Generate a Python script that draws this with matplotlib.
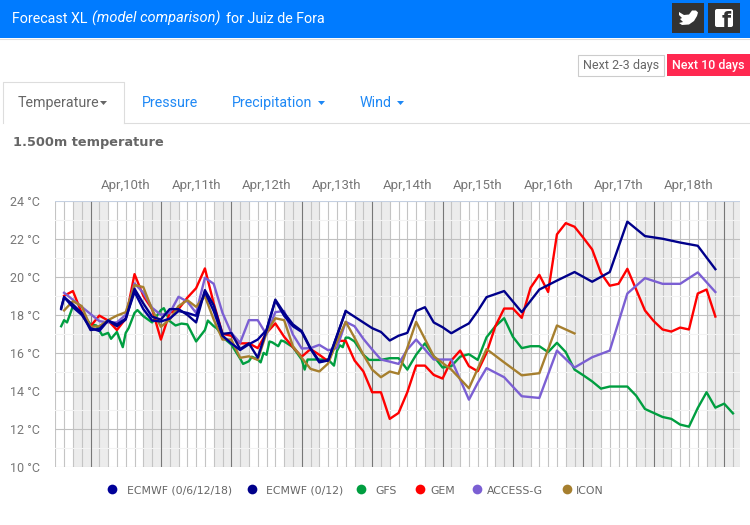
# -*- coding: utf-8 -*-
'''
Forecast XL model comparison chart for Juiz de Fora
'''

# %% =================== libraries =============================================

import matplotlib
matplotlib.use('Agg')
import matplotlib.pyplot as plt
from matplotlib.patches import Rectangle, FancyBboxPatch, Polygon

# %% =================== data ==================================================

# hours counted from Apr 10th 00:00
ecmwf_all_h = [-10, -9, -6, -3, 0, 3, 6, 9, 12, 15, 18, 21, 24, 27, 30, 33, 36, 39, 42, 45, 48, 51, 54, 57, 60, 63, 66, 69, 72, 75, 78, 81, 84, 87]
ecmwf_all_t = [18.3, 18.93, 18.4, 18.0, 17.3, 17.15, 17.7, 17.5, 17.8, 19.2, 18.3, 17.7, 17.65, 17.8, 18.2, 18.1, 17.95, 19.2, 18.2, 16.9, 16.5, 16.15, 16.45, 16.7, 17.2, 18.75, 17.95, 17.4, 17.1, 16.2, 15.5, 15.6, 16.9, 18.2]

ecmwf_012_h = [-10, -9, -6, -3, 0, 3, 6, 9, 12, 15, 18, 21, 24, 27, 30, 33, 36, 39, 42, 45, 48, 51, 54, 57, 60, 63, 66, 69, 72, 75, 78, 81, 84, 87, 90, 93, 96, 99, 102, 105, 108, 111, 114, 117, 120, 123, 126, 129, 132, 135, 141, 147, 153, 159, 165, 171, 177, 183, 189, 195, 201, 207, 213]
ecmwf_012_t = [18.37, 18.93, 18.54, 18.1, 17.2, 17.26, 17.7, 17.4, 17.75, 19.37, 18.6, 17.9, 17.75, 18.3, 18.3, 18.0, 17.6, 19.3, 18.5, 17.0, 17.05, 16.2, 16.5, 15.75, 17.2, 18.8, 18.1, 17.5, 17.15, 16.25, 15.56, 15.6, 16.9, 18.2, 17.9, 17.6, 17.3, 17.1, 16.65, 16.9, 17.05, 18.2, 18.4, 17.6, 17.35, 17.03, 17.3, 17.55, 18.2, 18.93, 19.25, 18.14, 19.33, 19.8, 20.25, 19.74, 20.25, 22.9, 22.14, 22.0, 21.8, 21.63, 20.4]

gfs_h = [-10, -9, -8, -6, -3, 0, 2, 4, 6, 7, 9, 11, 12, 13, 15, 16, 18, 21, 24, 25, 27, 29, 31, 33, 34, 36, 39, 40, 42, 43, 46, 48, 51, 52, 54, 55, 57, 58, 59, 60, 61, 62, 64, 65, 66, 69, 72, 73, 74, 78, 81, 83, 84, 85, 86, 87, 88, 90, 93, 95, 99, 102, 105, 108, 111, 114, 117, 120, 123, 126, 129, 132, 135, 138, 141, 144, 147, 150, 153, 156, 159, 162, 165, 168, 171, 174, 177, 183, 186, 189, 192, 195, 198, 201, 204, 207, 210, 213, 216, 219]
gfs_t = [17.4, 17.72, 17.6, 18.45, 18.1, 17.5, 17.44, 16.93, 17.05, 16.74, 17.1, 16.3, 17.05, 17.3, 18.1, 18.25, 17.93, 17.6, 18.25, 18.35, 17.67, 17.44, 17.54, 17.5, 17.2, 16.6, 17.2, 17.7, 17.4, 17.3, 16.7, 16.44, 15.7, 15.42, 15.56, 15.8, 15.65, 15.5, 16.0, 15.9, 16.6, 16.55, 16.35, 16.65, 16.6, 16.3, 15.65, 15.12, 15.65, 15.65, 15.65, 15.33, 16.1, 16.4, 16.3, 16.8, 16.8, 16.6, 15.9, 15.63, 15.63, 15.72, 15.72, 15.12, 15.9, 16.5, 15.82, 15.23, 15.3, 15.8, 15.93, 15.63, 16.82, 17.4, 17.82, 16.84, 16.25, 16.35, 16.35, 16.04, 16.53, 16.04, 15.12, 14.82, 14.5, 14.12, 14.23, 14.23, 13.75, 13.05, 12.84, 12.63, 12.53, 12.23, 12.12, 13.1, 13.93, 13.12, 13.33, 12.82]

gem_h = [-9, -6, -3, 0, 3, 6, 9, 12, 15, 18, 21, 24, 27, 30, 33, 36, 39, 42, 45, 48, 51, 54, 57, 60, 63, 66, 69, 72, 75, 78, 81, 84, 87, 90, 93, 96, 99, 102, 105, 108, 111, 114, 117, 120, 123, 126, 129, 132, 135, 138, 141, 144, 147, 150, 153, 156, 159, 162, 165, 168, 171, 174, 177, 180, 183, 186, 189, 192, 195, 198, 201, 204, 207, 210, 213]
gem_t = [19.0, 19.25, 18.1, 17.4, 17.96, 17.7, 17.2, 17.8, 20.14, 19.0, 18.3, 16.7, 18.1, 18.3, 18.9, 19.4, 20.44, 18.6, 17.0, 16.9, 16.5, 16.5, 16.25, 17.05, 17.55, 16.85, 16.3, 15.8, 16.2, 15.9, 15.56, 16.63, 16.63, 15.6, 15.03, 13.93, 13.93, 12.53, 12.84, 13.93, 15.33, 15.33, 14.84, 14.65, 15.6, 16.12, 15.3, 15.03, 16.0, 17.4, 18.33, 18.33, 17.84, 19.42, 20.1, 19.2, 22.23, 22.82, 22.63, 22.05, 21.44, 20.2, 19.53, 19.63, 20.42, 19.33, 18.23, 17.67, 17.23, 17.12, 17.33, 17.23, 19.12, 19.33, 17.91]

access_h = [-9, -3, 3, 6, 9, 12, 15, 18, 21, 24, 27, 30, 33, 36, 39, 42, 45, 48, 51, 54, 57, 60, 63, 66, 69, 72, 75, 78, 81, 84, 87, 90, 93, 96, 99, 102, 105, 108, 111, 114, 117, 123, 126, 129, 132, 135, 141, 147, 153, 159, 165, 171, 177, 183, 189, 195, 201, 207, 213]
access_t = [19.16, 18.42, 17.67, 17.6, 17.6, 18.0, 19.65, 19.16, 18.37, 18.0, 18.1, 18.95, 18.7, 18.1, 19.95, 19.63, 18.1, 17.05, 16.53, 17.72, 17.72, 16.96, 18.14, 18.2, 16.96, 16.23, 16.25, 16.42, 16.14, 16.25, 17.63, 17.4, 16.74, 16.18, 15.65, 15.54, 15.42, 16.18, 16.7, 16.18, 15.65, 15.65, 14.6, 13.54, 14.42, 15.2, 14.72, 13.72, 13.63, 16.12, 15.23, 15.77, 16.12, 19.12, 19.93, 19.63, 19.63, 20.23, 19.2]

icon_h = [-9, -6, -3, 0, 3, 6, 9, 12, 15, 18, 21, 24, 27, 30, 33, 36, 39, 42, 45, 48, 51, 54, 57, 60, 63, 66, 69, 72, 75, 78, 81, 84, 87, 90, 93, 96, 99, 102, 105, 111, 117, 123, 129, 135, 141, 147, 153, 159, 165]
icon_t = [18.23, 18.72, 18.46, 17.37, 17.4, 17.72, 17.96, 18.14, 19.56, 19.46, 18.28, 17.37, 17.75, 18.46, 18.77, 18.42, 18.98, 17.75, 16.7, 16.7, 15.74, 15.82, 15.63, 17.05, 17.82, 17.72, 16.35, 15.74, 15.16, 15.02, 15.44, 16.6, 17.63, 16.8, 15.9, 15.12, 14.72, 15.02, 14.9, 17.63, 15.82, 15.12, 14.14, 16.2, 15.5, 14.82, 14.93, 17.44, 17.02]

day_labels = ['Apr,10th', 'Apr,11th', 'Apr,12th', 'Apr,13th', 'Apr,14th',
              'Apr,15th', 'Apr,16th', 'Apr,17th', 'Apr,18th']
y_ticks = [10, 12, 14, 16, 18, 20, 22, 24]

legend_names = ['ECMWF (0/6/12/18)', 'ECMWF (0/12)', 'GFS', 'GEM', 'ACCESS-G', 'ICON']

# %% =================== figure ================================================

NAVY1, NAVY2 = '#000099', '#00008b'
GREEN, RED, PURPLE, BROWN = '#009e40', '#ff0000', '#7b5fd3', '#a67f2e'
TEXT = '#666666'
LINK = '#1e88f5'

plt.rcParams['font.family'] = ['Roboto', 'DejaVu Sans']

W, H = 750, 525
fig = plt.figure(figsize=(7.5, 5.25), dpi=100)

# the chart axes, placed on the page in pixels
ax = fig.add_axes([55.3/W, 1 - 467/H, (740 - 55.3)/W, (467 - 200.7)/H])
ax.set_xlim(-12, 221.4)
ax.set_ylim(10, 24)

# night bands
for h in range(-6, 222, 24):
    ax.axvspan(h, h + 12, color='#ececec', lw=0, zorder=0)

# 3-hour and day grid
for h in range(-12, 222, 3):
    dark = h % 24 == 0
    ax.axvline(h, color='#777777' if dark else '#c4c4c4', lw=0.8, zorder=2 if dark else 1)
for t in range(11, 24, 2):
    ax.axhline(t, color='#f3f3f3', lw=0.8, zorder=1)
for t in y_ticks:
    ax.axhline(t, color='#c0c0c0', lw=0.8, zorder=1)

for s in ax.spines.values():
    s.set_visible(False)
ax.axhline(24, color='#c6d4ea', lw=1.2, zorder=3)

ax.set_yticks(y_ticks)
ax.set_yticklabels([f'{t} °C' for t in y_ticks], fontsize=9, color='#777777')
ax.tick_params(axis='y', length=0, pad=11)

ax.xaxis.tick_top()
ax.set_xticks([12 + 24*i for i in range(len(day_labels))])
ax.set_xticklabels(day_labels, fontsize=9.5, color='#777777')
ax.tick_params(axis='x', length=0, pad=6)

# the series
ax.plot(gfs_h, gfs_t, color=GREEN, lw=1.7, zorder=4)
ax.plot(gem_h, gem_t, color=RED, lw=1.7, zorder=5)
ax.plot(access_h, access_t, color=PURPLE, lw=1.7, zorder=6)
ax.plot(icon_h, icon_t, color=BROWN, lw=1.7, zorder=7)
ax.plot(ecmwf_all_h, ecmwf_all_t, color=NAVY1, lw=1.7, zorder=8)
ax.plot(ecmwf_012_h, ecmwf_012_t, color=NAVY2, lw=1.7, zorder=9)

# %% =================== page around the chart =================================

# full page axes, in pixels, y going down
pg = fig.add_axes([0, 0, 1, 1], zorder=10)
pg.set_xlim(0, W)
pg.set_ylim(H, 0)
pg.axis('off')

pg.add_patch(Rectangle((0, 0), W, 38, color='#007bff', lw=0))
pg.plot([0, W], [38.5, 38.5], color='#dddddd', lw=0.8)

pg.text(12, 23, 'Forecast XL', color='white', fontsize=10.3)
pg.text(92, 23, '(model comparison)', color='white', fontsize=10.5, style='italic')
pg.text(226, 23, 'for Juiz de Fora', color='white', fontsize=10.3)

# share buttons
pg.add_patch(Rectangle((672, 3), 32, 30, color='#333333', lw=0))
pg.add_patch(Rectangle((708, 3), 32, 30, color='#333333', lw=0))
pg.add_patch(Polygon([(679, 12), (684, 15), (689, 14.5), (692, 10.5), (696, 10.5), (698, 12.5),
                      (697, 16), (694, 21), (689, 24.5), (682, 25), (679, 23), (683, 22),
                      (680, 19), (682, 18), (679, 15)], color='white', lw=0))
pg.add_patch(FancyBboxPatch((715, 9), 18, 18, boxstyle='round,pad=0,rounding_size=2', color='white', lw=0))
pg.text(726, 27.3, 'f', color='#333333', fontsize=15, fontweight='bold', ha='center',
        family='DejaVu Sans')

# range buttons
pg.add_patch(Rectangle((577.5, 54.5), 86, 21, fc='white', ec='#cccccc', lw=0.8))
pg.text(621, 65, 'Next 2-3 days', color=TEXT, fontsize=9, ha='center', va='center')
pg.add_patch(Rectangle((667, 54), 83, 22, color='#ff2850', lw=0))
pg.text(708.5, 65, 'Next 10 days', color='white', fontsize=9, ha='center', va='center', fontweight='medium')

# tabs
pg.plot([124, W], [122.5, 122.5], color='#dddddd', lw=0.8)
pg.plot([2.5, 2.5, 123.5, 123.5], [122.5, 81.5, 81.5, 122.5], color='#dddddd', lw=0.8)
pg.text(18, 107, 'Temperature', color=TEXT, fontsize=10.3)
pg.add_patch(Polygon([(100, 101), (107, 101), (103.5, 105)], color=TEXT, lw=0))
pg.text(142, 107, 'Pressure', color=LINK, fontsize=10.3)
pg.text(232, 107, 'Precipitation', color=LINK, fontsize=10.3)
pg.add_patch(Polygon([(318, 101), (325, 101), (321.5, 105)], color=LINK, lw=0))
pg.text(360, 107, 'Wind', color=LINK, fontsize=10.3)
pg.add_patch(Polygon([(397, 101), (404, 101), (400.5, 105)], color=LINK, lw=0))

pg.text(13, 142.5, '1.500m temperature', color=TEXT, fontsize=9.3, va='center', fontweight='bold',
        family='DejaVu Sans')

# legend
legend_colors = [NAVY1, NAVY2, GREEN, RED, PURPLE, BROWN]
dot_x = [112, 252, 361, 420, 477, 566.7]
text_x = [127, 266, 375, 430, 487, 576]
for name, c, xd, xt in zip(legend_names, legend_colors, dot_x, text_x):
    pg.plot([xd], [489], 'o', color=c, ms=7, mew=0)
    pg.text(xt, 490.5, name, color=TEXT, fontsize=7.8, va='center', family='DejaVu Sans')

fig.savefig('out.png', dpi=100)
